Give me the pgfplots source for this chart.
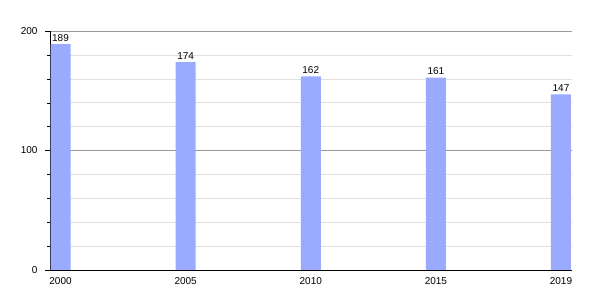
\documentclass[border=0pt]{standalone}
\usepackage{pgfplots}
\pgfplotsset{compat=1.18}
\usepackage{fontspec}
\setmainfont{Liberation Sans}
\definecolor{barc}{RGB}{153,170,255}
\begin{document}
\begin{tikzpicture}[x=1pt,y=1pt]
\useasboundingbox (0,0) rectangle (600,300);
\begin{axis}[at={(50pt,30pt)}, anchor=south west, scale only axis,
  width=522pt, height=239pt,
  xmin=-0.084, xmax=4.088, ymin=0, ymax=200,
  ybar, bar width=20pt,
  axis x line*=bottom, axis y line*=left, axis line style={-, black},
  xtick={0,1,2,3,4}, xticklabels={2000,2005,2010,2015,2019},
  x tick style={draw=none},
  ytick={0,100,200}, minor ytick={20,40,60,80,120,140,160,180},
  tick align=outside, major tick length=5pt, minor tick length=3pt,
  y tick style={black},
  ymajorgrids, yminorgrids,
  major grid style={draw=black!40},
  minor grid style={draw=black!12},
  /pgf/number format/assume math mode=true,
  tick label style={font=\fontsize{10}{12}\selectfont},
  yticklabel style={xshift=-4pt},
  xticklabel style={yshift=1pt},
  nodes near coords,
  every node near coord/.append style={font=\fontsize{10}{12}\selectfont, black, yshift=-1pt},
  clip=false,
]
\addplot[fill=barc, draw=none] coordinates {(0,189) (1,174) (2,162) (3,161) (4,147)};
\end{axis}
\end{tikzpicture}
\end{document}
